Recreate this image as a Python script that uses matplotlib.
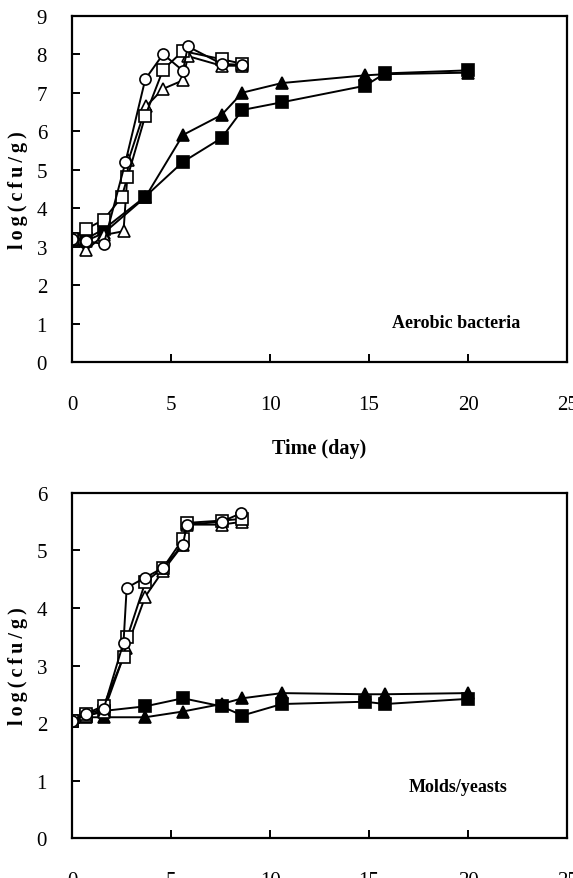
import matplotlib
matplotlib.use("Agg")
import matplotlib.pyplot as plt

plt.rcParams['font.family'] = ['Liberation Serif', 'DejaVu Serif']

# ---- Aerobic bacteria (top panel) ----
ab_circle_x = [0, 0.7, 1.6, 2.7, 3.7, 4.6, 5.6, 5.85, 7.55, 8.6]
ab_circle_y = [3.2, 3.15, 3.06, 5.2, 7.35, 8.0, 7.57, 8.2, 7.75, 7.72]
ab_osq_x = [0, 0.7, 1.6, 2.5, 2.8, 3.7, 4.6, 5.6, 7.55, 8.6]
ab_osq_y = [3.2, 3.45, 3.7, 4.28, 4.8, 6.4, 7.6, 8.08, 7.87, 7.75]
ab_otri_x = [0, 0.7, 1.6, 2.6, 2.85, 3.75, 4.6, 5.6, 5.85, 7.55, 8.6]
ab_otri_y = [3.2, 2.9, 3.3, 3.4, 5.25, 6.65, 7.1, 7.32, 7.95, 7.7, 7.7]
ab_ftri_x = [0, 0.7, 1.6, 3.7, 5.6, 7.55, 8.6, 10.6, 14.8, 15.8, 20]
ab_ftri_y = [3.2, 3.15, 3.35, 4.28, 5.9, 6.42, 7.0, 7.25, 7.45, 7.48, 7.52]
ab_fsq_x = [0, 0.7, 1.6, 3.7, 5.6, 7.55, 8.6, 10.6, 14.8, 15.8, 20]
ab_fsq_y = [3.2, 3.2, 3.45, 4.3, 5.2, 5.82, 6.55, 6.75, 7.18, 7.5, 7.58]

# ---- Molds/yeasts (bottom panel) ----
my_circle_x = [0, 0.7, 1.6, 2.6, 2.76, 3.7, 4.6, 5.6, 5.8, 7.55, 8.55]
my_circle_y = [2.04, 2.15, 2.25, 3.4, 4.35, 4.53, 4.7, 5.1, 5.45, 5.5, 5.65]
my_osq_x = [0, 0.7, 1.6, 2.6, 2.8, 3.7, 4.6, 5.6, 5.8, 7.55, 8.6]
my_osq_y = [2.04, 2.16, 2.3, 3.15, 3.5, 4.45, 4.7, 5.2, 5.48, 5.52, 5.55]
my_otri_x = [0, 0.7, 1.6, 2.75, 3.7, 4.6, 5.6, 5.8, 7.55, 8.6]
my_otri_y = [2.04, 2.12, 2.2, 3.3, 4.2, 4.65, 5.1, 5.45, 5.45, 5.5]
my_ftri_x = [0, 0.7, 1.6, 3.7, 5.6, 7.55, 8.6, 10.6, 14.8, 15.8, 20]
my_ftri_y = [2.04, 2.1, 2.1, 2.1, 2.2, 2.33, 2.43, 2.52, 2.5, 2.5, 2.52]
my_fsq_x = [0, 0.7, 1.6, 3.7, 5.6, 7.55, 8.6, 10.6, 14.8, 15.8, 20]
my_fsq_y = [2.04, 2.13, 2.21, 2.29, 2.43, 2.29, 2.13, 2.33, 2.37, 2.33, 2.42]

x_ticks = [0, 5, 10, 15, 20, 25]


def draw_series(ax, data):
    for xs, ys, mk, filled in data:
        ax.plot(xs, ys, color='black', lw=1.4, marker=mk, ms=8,
                mfc='black' if filled else 'white', mec='black', mew=1.2)


def style_axes(ax, ymax):
    ax.set_xlim(0, 25)
    ax.set_ylim(0, ymax)
    ax.set_xticks(x_ticks)
    ax.set_yticks(range(0, ymax + 1))
    for s in ax.spines.values():
        s.set_linewidth(1.6)
    ax.tick_params(direction='in', length=6, width=1.4, labelsize=15,
                   top=False, right=False)
    ax.tick_params(axis='x', pad=24)
    ax.tick_params(axis='y', pad=18)
    ax.set_ylabel('l\u2009o\u2009g\u2009(\u2009c\u2009f\u2009u\u2009/\u2009g\u2009)',
                  fontsize=14.5, fontweight='bold', labelpad=6)


fig = plt.figure(figsize=(5.73, 8.79), dpi=100)

ax1 = fig.add_axes([0.1257, 0.587, 0.864, 0.394])
draw_series(ax1, [
    (ab_fsq_x, ab_fsq_y, 's', True),
    (ab_ftri_x, ab_ftri_y, '^', True),
    (ab_otri_x, ab_otri_y, '^', False),
    (ab_osq_x, ab_osq_y, 's', False),
    (ab_circle_x, ab_circle_y, 'o', False),
])
style_axes(ax1, 9)
ax1.set_xlabel('Time (day)', fontsize=14.5, fontweight='bold', labelpad=17)
ax1.text(19.4, 1.04, 'Aerobic bacteria', fontsize=13, fontweight='bold',
         ha='center', va='center')

ax2 = fig.add_axes([0.1257, 0.0455, 0.864, 0.3925])
draw_series(ax2, [
    (my_fsq_x, my_fsq_y, 's', True),
    (my_ftri_x, my_ftri_y, '^', True),
    (my_otri_x, my_otri_y, '^', False),
    (my_osq_x, my_osq_y, 's', False),
    (my_circle_x, my_circle_y, 'o', False),
])
style_axes(ax2, 6)
ax2.text(19.5, 0.9, 'Molds/yeasts', fontsize=13, fontweight='bold',
         ha='center', va='center')

fig.savefig('out.png', dpi=100)
